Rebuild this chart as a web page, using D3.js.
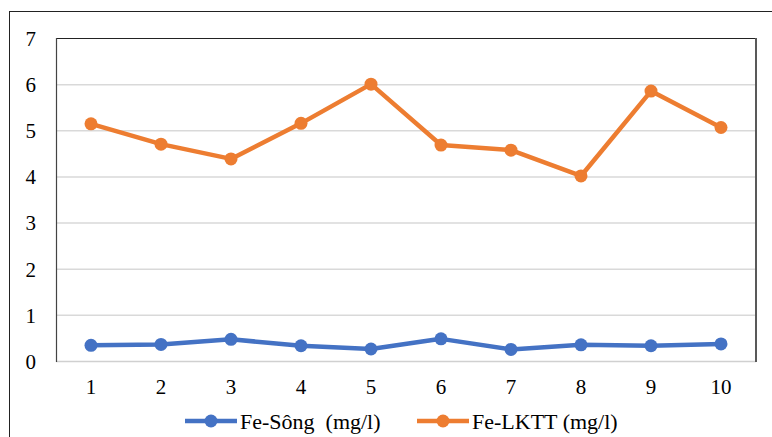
<!DOCTYPE html>
<html>
<head>
<meta charset="utf-8">
<script src="https://cdn.jsdelivr.net/npm/d3@7/dist/d3.min.js"></script>
<style>
  html, body { margin: 0; padding: 0; background: #fff; }
  svg { display: block; }
</style>
</head>
<body>
<script>
// Sampling sites 1–10
const sites = [1, 2, 3, 4, 5, 6, 7, 8, 9, 10];
// Iron concentration in river water (mg/l)
const feSong = [0.34, 0.36, 0.47, 0.33, 0.26, 0.48, 0.25, 0.35, 0.33, 0.37];
// Iron concentration in the LKTT samples (mg/l)
const feLKTT = [5.14, 4.70, 4.38, 5.15, 6.00, 4.68, 4.57, 4.01, 5.85, 5.06];
const yTicks = [0, 1, 2, 3, 4, 5, 6, 7];
const seriesNames = ["Fe-Sông  (mg/l)", "Fe-LKTT (mg/l)"];
const seriesColors = ["#4472C4", "#ED7D31"];

const W = 772, H = 437;
const plot = { left: 56, top: 38, right: 756, bottom: 361 };
const FONT = "Liberation Serif, Times New Roman, Times, Nimbus Roman, FreeSerif, Noto Serif, DejaVu Serif, serif";

const svg = d3.select("body").append("svg")
  .attr("width", W).attr("height", H);

// outer chart frame (runs past the page edge on the right and bottom)
svg.append("rect")
  .attr("x", 9.5).attr("y", 11.5)
  .attr("width", 800).attr("height", 500)
  .attr("fill", "#fff").attr("stroke", "#222").attr("stroke-width", 1);

const x = d3.scaleBand().domain(sites).range([plot.left, plot.right]);
const y = d3.scaleLinear().domain([0, 7]).range([plot.bottom, plot.top]);

// horizontal gridlines
svg.append("g").selectAll("line").data(yTicks.slice(1, -1)).join("line")
  .attr("x1", plot.left).attr("x2", plot.right)
  .attr("y1", d => y(d) + 0.5).attr("y2", d => y(d) + 0.5)
  .attr("stroke", "#d9d9d9").attr("stroke-width", 1.5);

// x axis baseline
svg.append("line")
  .attr("x1", plot.left).attr("x2", plot.right)
  .attr("y1", y(0) + 0.5).attr("y2", y(0) + 0.5)
  .attr("stroke", "#d0d0d0").attr("stroke-width", 1.5);

// plot area frame: dark top/left, grey right
svg.append("line").attr("x1", plot.left).attr("x2", plot.right + 1)
  .attr("y1", plot.top + 0.5).attr("y2", plot.top + 0.5)
  .attr("stroke", "#222").attr("stroke-width", 1.2);
svg.append("line").attr("x1", plot.left + 0.5).attr("x2", plot.left + 0.5)
  .attr("y1", plot.top).attr("y2", plot.bottom + 1)
  .attr("stroke", "#444").attr("stroke-width", 1.2);
svg.append("line").attr("x1", plot.right).attr("x2", plot.right)
  .attr("y1", plot.top).attr("y2", plot.bottom + 1)
  .attr("stroke", "#595959").attr("stroke-width", 2);

// y axis labels
const yAxis = d3.axisLeft(y).tickValues(yTicks).tickSize(0).tickPadding(0).tickFormat(d3.format("d"));
const gy = svg.append("g").attr("transform", `translate(36,0)`).call(yAxis)
  .attr("font-family", FONT).attr("font-size", 21);
gy.select(".domain").remove();
gy.selectAll("text").attr("dy", "0.35em").attr("fill", "#000");

// x axis labels
const xAxis = d3.axisBottom(x).tickSize(0).tickPadding(0);
const gx = svg.append("g").attr("transform", `translate(0,${plot.bottom + 18})`).call(xAxis)
  .attr("font-family", FONT).attr("font-size", 21);
gx.select(".domain").remove();
gx.selectAll("text").attr("dy", "0.71em").attr("fill", "#000");

// series lines and markers
const line = d3.line().x((d, i) => x(sites[i]) + x.bandwidth() / 2).y(d => y(d));
[feSong, feLKTT].forEach((vals, k) => {
  const g = svg.append("g");
  g.append("path").datum(vals).attr("d", line)
    .attr("fill", "none").attr("stroke", seriesColors[k])
    .attr("stroke-width", 4.5).attr("stroke-linejoin", "round");
  g.selectAll("circle").data(vals).join("circle")
    .attr("cx", (d, i) => x(sites[i]) + x.bandwidth() / 2)
    .attr("cy", d => y(d))
    .attr("r", 6.5).attr("fill", seriesColors[k]);
});

// legend
const legendItems = [
  { x: 185, name: seriesNames[0], color: seriesColors[0] },
  { x: 417, name: seriesNames[1], color: seriesColors[1] }
];
const ly = 421;
legendItems.forEach(it => {
  const g = svg.append("g");
  g.append("line").attr("x1", it.x).attr("x2", it.x + 52)
    .attr("y1", ly).attr("y2", ly)
    .attr("stroke", it.color).attr("stroke-width", 4.5);
  g.append("circle").attr("cx", it.x + 26).attr("cy", ly).attr("r", 6.5).attr("fill", it.color);
  g.append("text").attr("x", it.x + 55).attr("y", ly).attr("dy", "0.35em")
    .attr("font-family", FONT).attr("font-size", 22)
    .style("white-space", "pre").text(it.name);
});
</script>
</body>
</html>
